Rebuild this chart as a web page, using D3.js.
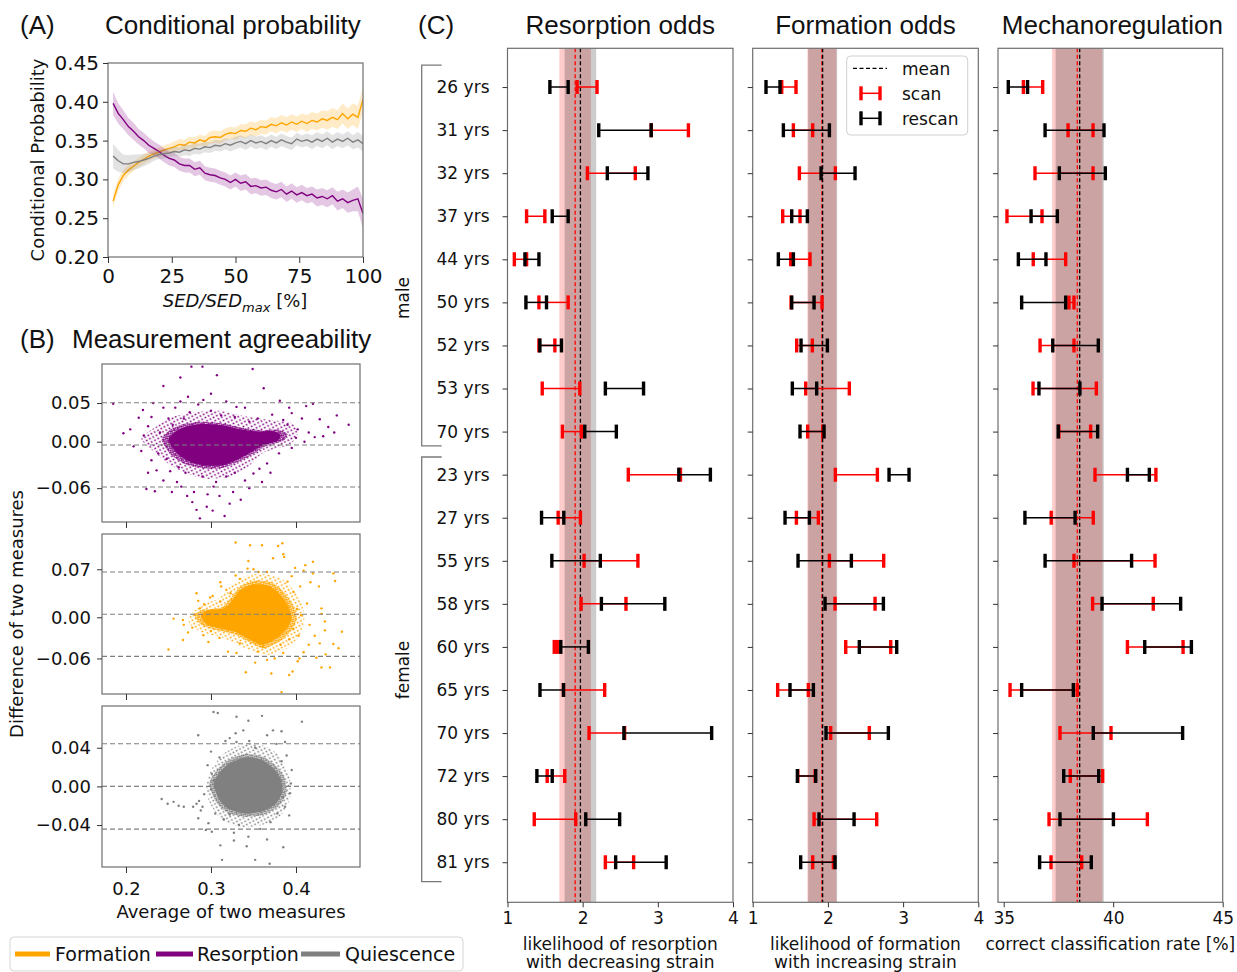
<!DOCTYPE html>
<html>
<head>
<meta charset="utf-8">
<script src="https://cdn.jsdelivr.net/npm/d3@7"></script>
<style>
body { margin: 0; background: #fff; }
</style>
</head>
<body>
<svg id="fig" width="1237" height="972"></svg>
<script>
// ---------- (A) conditional probability ----------
const sedPct = [2,4,6,8,10,12,14,16,18,20,22,24,26,28,30,32,34,36,38,40,42,44,46,48,50,
                52,54,56,58,60,62,64,66,68,70,72,74,76,78,80,82,84,86,88,90,92,94,96,98,100];
const formProb = [0.272,0.293,0.305,0.312,0.317,0.322,0.326,0.330,0.333,0.335,0.338,0.340,0.342,0.345,0.344,0.348,0.347,0.351,0.349,0.354,0.355,0.354,0.358,0.360,0.359,
                  0.363,0.362,0.366,0.364,0.368,0.367,0.371,0.369,0.373,0.370,0.374,0.371,0.375,0.372,0.376,0.374,0.378,0.376,0.380,0.377,0.385,0.378,0.384,0.380,0.403];
const resProb  = [0.398,0.385,0.377,0.368,0.362,0.355,0.350,0.344,0.340,0.336,0.331,0.327,0.325,0.320,0.318,0.318,0.313,0.315,0.308,0.306,0.305,0.302,0.300,0.296,0.300,
                  0.295,0.297,0.291,0.292,0.289,0.290,0.286,0.284,0.287,0.281,0.285,0.280,0.283,0.279,0.281,0.276,0.278,0.275,0.279,0.272,0.275,0.270,0.273,0.275,0.256];
const quiProb  = [0.330,0.324,0.320,0.320,0.322,0.323,0.325,0.327,0.330,0.332,0.333,0.334,0.336,0.335,0.338,0.337,0.340,0.339,0.342,0.341,0.344,0.343,0.346,0.344,0.347,
                  0.349,0.346,0.350,0.347,0.349,0.346,0.350,0.347,0.351,0.348,0.346,0.352,0.349,0.351,0.348,0.352,0.349,0.353,0.348,0.352,0.349,0.353,0.348,0.351,0.346];
// half widths of the confidence bands
const formHW = [0.008,0.008,0.007,0.007,0.006,0.006,0.006,0.006,0.006,0.006,0.006,0.006,0.007,0.007,0.007,0.007,0.007,0.007,0.007,0.008,0.008,0.008,0.008,0.008,0.008,
                0.008,0.009,0.009,0.009,0.009,0.009,0.009,0.010,0.010,0.010,0.010,0.010,0.010,0.011,0.011,0.011,0.011,0.012,0.012,0.012,0.013,0.013,0.014,0.015,0.016];
const resHW  = [0.015,0.013,0.012,0.011,0.011,0.010,0.010,0.010,0.009,0.009,0.009,0.009,0.009,0.009,0.009,0.009,0.009,0.009,0.009,0.009,0.009,0.009,0.009,0.009,0.009,
                0.010,0.010,0.010,0.010,0.010,0.010,0.010,0.010,0.010,0.010,0.010,0.010,0.010,0.010,0.010,0.011,0.011,0.011,0.011,0.012,0.012,0.013,0.014,0.016,0.019];
const quiHW  = [0.016,0.014,0.012,0.011,0.010,0.009,0.008,0.007,0.006,0.006,0.006,0.006,0.006,0.006,0.007,0.007,0.007,0.007,0.007,0.007,0.007,0.007,0.007,0.008,0.008,
                0.008,0.008,0.008,0.008,0.008,0.008,0.008,0.008,0.008,0.008,0.008,0.008,0.008,0.008,0.009,0.009,0.009,0.009,0.009,0.009,0.009,0.009,0.009,0.010,0.010];

// ---------- (B) Bland-Altman clouds: scattered points + dense core outlines ----------
const resPts = [[0.277,0.097],[0.290,0.097],[0.349,0.094],[0.264,0.083],[0.307,0.086],[0.244,0.072],[0.362,0.069],[0.300,0.062],[0.273,0.058],[0.185,0.049],
  [0.462,0.022],[0.448,0.034],[0.197,0.011],[0.422,0.006],[0.244,0.044],[0.220,0.041],[0.215,0.031],[0.230,0.032],[0.264,0.052],[0.291,0.054],
  [0.318,0.052],[0.340,0.044],[0.381,0.053],[0.395,0.037],[0.407,0.030],[0.412,0.046],[0.420,0.049],[0.438,0.019],[0.432,0.007],[0.265,-0.058],
  [0.224,-0.061],[0.303,-0.058],[0.326,-0.065],[0.350,-0.041],[0.357,-0.035],[0.366,-0.028],[0.295,-0.084],[0.302,-0.089],[0.283,-0.088],[0.260,-0.052],
  [0.244,-0.050],[0.236,-0.037],[0.230,-0.024],[0.209,-0.006],[0.221,0.008],[0.287,-0.099],[0.316,-0.096],[0.278,-0.078],[0.254,-0.065],[0.234,-0.064],
  [0.205,0.016],[0.226,0.020],[0.240,0.012],[0.238,-0.015],[0.250,0.030],[0.275,0.038],[0.300,0.040],[0.328,0.032],[0.355,0.030],[0.372,0.035],
  [0.390,0.022],[0.402,0.016],[0.415,0.012],[0.410,0.000],[0.395,-0.008],[0.380,-0.015],[0.370,-0.040],[0.340,-0.050],[0.318,-0.045],[0.290,-0.045],
  [0.270,-0.040],[0.252,-0.038],[0.310,-0.070],[0.296,-0.068],[0.335,-0.075],[0.280,-0.065],[0.258,0.044],[0.232,0.050],[0.285,0.048],[0.330,0.045],
  [0.392,0.044],[0.428,0.029],[0.445,0.012],[0.255,0.022],[0.268,0.030],[0.312,0.034],[0.345,0.026],[0.385,0.028],[0.400,0.005],[0.218,-0.012],
  [0.262,-0.033],[0.306,-0.052],[0.328,-0.040],[0.345,-0.060],[0.290,-0.030],[0.322,-0.080],[0.272,-0.070],[0.248,-0.022],[0.226,-0.040],[0.360,-0.052]];
const resCore = [[0.250,0.002],[0.258,0.013],[0.272,0.020],[0.292,0.023],[0.315,0.021],[0.335,0.016],[0.355,0.013],[0.372,0.014],[0.382,0.009],
  [0.378,0.001],[0.360,-0.005],[0.348,-0.013],[0.333,-0.022],[0.315,-0.030],[0.295,-0.031],[0.275,-0.026],[0.260,-0.015]];
const resHalo = [[0.218,0.004],[0.236,0.020],[0.255,0.032],[0.280,0.038],[0.310,0.040],[0.340,0.033],[0.370,0.028],[0.395,0.024],[0.402,0.010],
  [0.392,-0.004],[0.362,-0.014],[0.346,-0.030],[0.325,-0.044],[0.300,-0.048],[0.276,-0.043],[0.252,-0.030],[0.232,-0.012]];

const formPts = [[0.329,0.109],[0.346,0.105],[0.360,0.105],[0.379,0.104],[0.384,0.108],[0.385,0.092],[0.386,0.088],[0.373,0.086],[0.344,0.082],[0.420,0.081],
  [0.411,0.076],[0.399,0.072],[0.409,0.068],[0.420,0.064],[0.444,0.064],[0.446,0.053],[0.417,0.051],[0.427,0.045],[0.311,0.051],[0.312,0.045],
  [0.283,0.035],[0.299,0.029],[0.302,0.031],[0.267,-0.004],[0.256,-0.002],[0.268,-0.011],[0.273,-0.022],[0.267,-0.033],[0.250,-0.047],[0.291,-0.026],
  [0.297,-0.036],[0.430,0.013],[0.430,0.005],[0.434,-0.006],[0.434,-0.019],[0.454,-0.021],[0.416,-0.011],[0.422,-0.027],[0.428,-0.038],[0.444,-0.039],
  [0.450,-0.045],[0.435,-0.054],[0.424,-0.059],[0.430,-0.073],[0.440,-0.073],[0.409,-0.051],[0.404,-0.060],[0.402,-0.064],[0.396,-0.079],[0.392,-0.084],
  [0.383,-0.109],[0.371,-0.082],[0.341,-0.080],[0.352,-0.066],[0.366,-0.062],[0.330,-0.052],[0.320,-0.050],[0.334,-0.038],[0.361,-0.043],[0.385,-0.052],
  [0.382,-0.040],[0.392,-0.032],[0.397,-0.017],[0.403,-0.027],[0.406,0.003],[0.401,0.012],[0.397,0.037],[0.390,0.052],[0.366,0.066],[0.356,0.066],
  [0.343,0.071],[0.334,0.056],[0.329,0.061],[0.323,0.035],[0.311,0.023],[0.287,0.013],[0.292,0.019],[0.281,0.004],[0.300,-0.020],[0.310,-0.030],
  [0.318,0.040],[0.350,0.070],[0.395,0.060],[0.413,0.020],[0.415,-0.040],[0.375,-0.060],[0.355,-0.050],[0.278,-0.015],[0.285,0.024],[0.405,0.045]];
const formCore = [[0.288,0.002],[0.295,0.010],[0.315,0.013],[0.325,0.025],[0.335,0.040],[0.350,0.048],[0.368,0.046],[0.380,0.035],[0.390,0.018],
  [0.395,0.000],[0.390,-0.015],[0.378,-0.030],[0.360,-0.040],[0.345,-0.032],[0.330,-0.022],[0.310,-0.016],[0.295,-0.010]];
const formHalo = [[0.275,0.003],[0.290,0.018],[0.310,0.028],[0.325,0.048],[0.345,0.062],[0.370,0.062],[0.390,0.050],[0.405,0.025],[0.410,0.000],
  [0.405,-0.025],[0.390,-0.045],[0.365,-0.055],[0.340,-0.045],[0.315,-0.030],[0.290,-0.022],[0.275,-0.010]];

const quiPts = [[0.303,0.077],[0.308,0.076],[0.360,0.073],[0.407,0.067],[0.330,0.072],[0.344,0.068],[0.285,0.053],[0.329,0.055],[0.338,0.058],[0.373,0.058],
  [0.383,0.057],[0.366,0.053],[0.322,0.050],[0.317,0.047],[0.330,0.046],[0.387,0.046],[0.377,0.044],[0.345,0.047],[0.300,0.036],[0.389,0.032],
  [0.383,0.026],[0.395,0.017],[0.394,0.003],[0.393,-0.007],[0.385,-0.011],[0.387,-0.021],[0.301,0.013],[0.303,0.006],[0.300,-0.003],[0.242,-0.013],
  [0.249,-0.018],[0.256,-0.016],[0.262,-0.020],[0.268,-0.021],[0.279,-0.021],[0.283,-0.018],[0.286,-0.015],[0.288,-0.025],[0.290,-0.021],[0.285,-0.033],
  [0.297,-0.038],[0.294,-0.045],[0.301,-0.047],[0.311,-0.061],[0.313,-0.076],[0.327,-0.056],[0.327,-0.048],[0.342,-0.062],[0.344,-0.052],[0.352,-0.076],
  [0.369,-0.080],[0.385,-0.063],[0.366,-0.055],[0.358,-0.044],[0.370,-0.037],[0.333,-0.040],[0.315,-0.034],[0.322,-0.029],[0.378,-0.028],[0.310,0.030],
  [0.296,0.022],[0.352,0.040],[0.392,-0.030],[0.305,-0.028],[0.292,-0.008]];
const quiCore = [[0.303,0.002],[0.310,0.014],[0.322,0.024],[0.340,0.030],[0.358,0.028],[0.372,0.020],[0.382,0.008],[0.384,-0.006],[0.376,-0.018],
  [0.360,-0.026],[0.340,-0.028],[0.322,-0.024],[0.310,-0.014]];
const quiHalo = [[0.295,0.002],[0.302,0.020],[0.318,0.036],[0.340,0.044],[0.362,0.042],[0.380,0.032],[0.392,0.012],[0.393,-0.012],[0.382,-0.030],
  [0.360,-0.040],[0.335,-0.042],[0.312,-0.034],[0.298,-0.016]];

// limits of agreement lines (upper, mean, lower) and their tick labels
const resLoA = [0.0504, -0.0043, -0.0585], resTicks = [0.05, 0, -0.06];
const formLoA = [0.066, 0.0044, -0.057], formTicks = [0.07, 0, -0.06];
const quiLoA = [0.0441, 0, -0.0442], quiTicks = [0.04, 0, -0.04];

// ---------- (C) odds per subject, scan (red) and rescan (black) ----------
const subjects = ['26 yrs','31 yrs','32 yrs','37 yrs','44 yrs','50 yrs','52 yrs','53 yrs','70 yrs',
                  '23 yrs','27 yrs','55 yrs','58 yrs','60 yrs','65 yrs','70 yrs','72 yrs','80 yrs','81 yrs'];
const resScan = [[1.926,2.191],[2.912,3.407],[2.063,2.700],[1.254,1.497],[1.091,1.254],[1.418,1.807],[1.418,1.630],[1.462,1.962],[1.731,1.983],
  [2.607,3.301],[1.674,1.970],[2.019,2.735],[1.979,2.576],[1.622,1.662],[1.745,2.293],[2.085,2.558],[1.528,1.762],[1.356,1.908],[2.302,2.678]];
const resRescan = [[1.564,1.807],[2.214,2.912],[2.328,2.868],[1.595,1.807],[1.232,1.418],[1.245,1.519],[1.431,1.718],[2.302,2.810],[2.028,2.448],
  [3.279,3.699],[1.453,1.749],[1.590,2.235],[2.249,3.093],[1.709,2.076],[1.432,1.745],[2.549,3.716],[1.391,1.595],[2.041,2.492],[2.439,3.111]];
const formScan = [[1.386,1.576],[1.541,1.798],[1.621,2.099],[1.399,1.629],[1.505,1.762],[1.510,1.922],[1.585,1.793],[1.705,2.285],[1.731,1.931],
  [2.099,2.658],[1.581,1.873],[2.020,2.742],[2.095,2.627],[2.237,2.835],[1.332,1.740],[2.037,2.551],[1.600,1.830],[1.816,2.649],[1.798,2.073]];
const formRescan = [[1.177,1.363],[1.408,2.020],[1.909,2.361],[1.519,1.727],[1.341,1.541],[1.519,1.816],[1.643,1.993],[1.527,1.851],[1.629,1.949],
  [2.813,3.079],[1.430,1.754],[1.603,2.312],[1.962,2.738],[2.418,2.915],[1.496,1.807],[1.975,2.804],[1.594,1.838],[1.882,2.348],[1.638,2.095]];
const mechScan = [[35.90,36.78],[37.94,39.08],[36.43,39.08],[35.15,36.75],[36.35,37.83],[37.98,38.21],[36.66,38.21],[36.34,39.23],[37.52,38.97],
  [39.17,41.95],[37.17,39.09],[38.21,41.91],[39.06,41.83],[40.65,43.19],[35.29,38.36],[37.57,39.90],[38.04,39.52],[37.07,41.56],[37.16,38.56]];
const mechRescan = [[35.21,36.09],[36.89,39.58],[37.54,39.64],[36.25,37.45],[35.67,36.93],[35.82,37.83],[37.24,39.32],[36.61,38.48],[37.49,39.29],
  [40.65,41.65],[35.97,38.26],[36.89,40.84],[39.49,43.08],[41.44,43.57],[35.82,38.18],[39.09,43.17],[37.74,39.34],[37.57,40.01],[36.64,39.00]];
// group means and band half widths [scan, rescan]
const resMean = [1.90, 1.97], resBand = [0.21, 0.21];
const formMean = [1.92, 1.93], formBand = [0.193, 0.193];
const mechMean = [38.36, 38.47], mechBand = [1.15, 1.10];

const COL = {form: '#ffa500', res: '#800080', qui: '#808080'};
const DV = '"DejaVu Sans", sans-serif';
const ARIAL = '"Liberation Sans", Arial, sans-serif';

const svg = d3.select('#fig');
svg.append('rect').attr('width', 1237).attr('height', 972).attr('fill', '#fff');
const defs = svg.append('defs');

function styleAxis(g, size) {
  g.select('.domain').remove();
  g.attr('font-family', DV).attr('font-size', size);
  g.selectAll('.tick line').attr('stroke', '#333').attr('stroke-width', 1);
  g.selectAll('.tick text').attr('fill', '#111');
}
function frame(x0, y0, x1, y1) {
  svg.append('rect').attr('x', x0).attr('y', y0).attr('width', x1 - x0).attr('height', y1 - y0)
    .attr('fill', 'none').attr('stroke', '#6e6e6e').attr('stroke-width', 1.2);
}
function clip(id, x0, y0, x1, y1) {
  defs.append('clipPath').attr('id', id).append('rect')
    .attr('x', x0).attr('y', y0).attr('width', x1 - x0).attr('height', y1 - y0);
  return 'url(#' + id + ')';
}
function dots(id, color, step, r, rot) {
  const p = defs.append('pattern').attr('id', id).attr('patternUnits', 'userSpaceOnUse')
    .attr('width', step).attr('height', step).attr('patternTransform', 'rotate(' + rot + ')');
  p.append('circle').attr('cx', step / 4).attr('cy', step / 4).attr('r', r).attr('fill', color);
  p.append('circle').attr('cx', step * 3 / 4).attr('cy', step * 3 / 4).attr('r', r).attr('fill', color);
  return 'url(#' + id + ')';
}
function title(x, y, txt, anchor) {
  svg.append('text').attr('x', x).attr('y', y).attr('font-family', ARIAL).attr('font-size', 26)
    .attr('text-anchor', anchor || 'start').attr('fill', '#111').text(txt);
}

// ================= Panel A =================
title(20, 34, '(A)'); title(105, 34, 'Conditional probability');
const ax = d3.scaleLinear().domain([0, 100]).range([108, 363]);
const ay = d3.scaleLinear().domain([0.2, 0.45]).range([257, 63]);
const gA = svg.append('g').attr('clip-path', clip('clipA', 108, 63, 363, 257));
const seriesA = [
  {c: COL.form, y: formProb, hw: formHW},
  {c: COL.res, y: resProb, hw: resHW},
  {c: COL.qui, y: quiProb, hw: quiHW}
];
seriesA.forEach(s => {
  const pts = sedPct.map((p, i) => ({x: p, y: s.y[i], h: s.hw[i]}));
  gA.append('path').datum(pts).attr('fill', s.c).attr('fill-opacity', 0.22)
    .attr('d', d3.area().x(d => ax(d.x)).y0(d => ay(d.y - d.h)).y1(d => ay(d.y + d.h)));
  gA.append('path').datum(pts).attr('fill', 'none').attr('stroke', s.c).attr('stroke-width', 1.4)
    .attr('d', d3.line().x(d => ax(d.x)).y(d => ay(d.y)));
});
frame(108, 63, 363, 257);
svg.append('g').attr('transform', 'translate(0,257)')
  .call(d3.axisBottom(ax).tickValues([0, 25, 50, 75, 100]).tickSize(6).tickPadding(6))
  .call(g => styleAxis(g, 20));
svg.append('g').attr('transform', 'translate(108,0)')
  .call(d3.axisLeft(ay).tickValues([0.2, 0.25, 0.3, 0.35, 0.4, 0.45]).tickFormat(d3.format('.2f')).tickSize(5).tickPadding(4))
  .call(g => styleAxis(g, 20));
svg.append('text').attr('transform', 'translate(44,160) rotate(-90)').attr('text-anchor', 'middle')
  .attr('font-family', DV).attr('font-size', 18).attr('fill', '#111').text('Conditional Probability');
const xl = svg.append('text').attr('x', 235).attr('y', 307).attr('text-anchor', 'middle')
  .attr('font-family', DV).attr('font-size', 18).attr('fill', '#111');
xl.append('tspan').attr('font-style', 'italic').text('SED/SED');
xl.append('tspan').attr('font-style', 'italic').attr('font-size', 13).attr('dy', 5).text('max');
xl.append('tspan').attr('dy', -5).text(' [%]');

// ================= Panel B =================
title(20, 348, '(B)'); title(72, 348, 'Measurement agreeability');
const bx = d3.scaleLinear().domain([0.1718, 0.4753]).range([102, 360]);
const subsB = [
  {c: COL.res, pts: resPts, core: resCore, halo: resHalo, top: 364, bot: 522, dom: [-0.1037, 0.1004], loa: resLoA, ticks: resTicks},
  {c: COL.form, pts: formPts, core: formCore, halo: formHalo, top: 534, bot: 694, dom: [-0.1118, 0.1214], loa: formLoA, ticks: formTicks},
  {c: COL.qui, pts: quiPts, core: quiCore, halo: quiHalo, top: 706, bot: 867, dom: [-0.0834, 0.0832], loa: quiLoA, ticks: quiTicks}
];
subsB.forEach((s, k) => {
  const y = d3.scaleLinear().domain(s.dom).range([s.bot, s.top]);
  const g = svg.append('g').attr('clip-path', clip('clipB' + k, 102, s.top, 360, s.bot));
  const outline = d3.line().x(d => bx(d[0])).y(d => y(d[1])).curve(d3.curveCardinalClosed.tension(0.3));
  // dotted halo, then a denser dotted ring, then the solid core
  g.append('path').datum(s.halo).attr('d', outline).attr('fill', dots('dotA' + k, s.c, 5.2, 0.95, 17));
  g.append('path').datum(s.core).attr('d', outline).attr('fill', dots('dotB' + k, s.c, 2.6, 0.9, 31))
    .attr('transform', 'translate(' + (bx(d3.mean(s.core, d => d[0])) * -0.12) + ',' + (y(d3.mean(s.core, d => d[1])) * -0.12) + ') scale(1.12)');
  g.append('path').datum(s.core).attr('d', outline).attr('fill', s.c);
  g.selectAll('circle.p').data(s.pts).join('circle').attr('class', 'p')
    .attr('cx', d => bx(d[0])).attr('cy', d => y(d[1])).attr('r', 1.2).attr('fill', s.c);
  g.selectAll('line.loa').data(s.loa).join('line').attr('class', 'loa')
    .attr('x1', 102).attr('x2', 360).attr('y1', d => y(d)).attr('y2', d => y(d))
    .attr('stroke', '#7f7f7f').attr('stroke-width', 1.1).attr('stroke-dasharray', '5,3');
  frame(102, s.top, 360, s.bot);
  svg.append('g').attr('transform', 'translate(102,0)')
    .call(d3.axisLeft(y).tickValues(s.ticks).tickFormat(d3.format('.2f')).tickSize(5).tickPadding(6))
    .call(g2 => styleAxis(g2, 18));
  svg.append('g').attr('transform', 'translate(0,' + s.bot + ')')
    .call(d3.axisBottom(bx).tickValues([0.2, 0.3, 0.4]).tickSize(6).tickPadding(9).tickFormat(k === 2 ? d3.format('.1f') : () => ''))
    .call(g2 => styleAxis(g2, 18));
});
svg.append('text').attr('x', 231).attr('y', 918).attr('text-anchor', 'middle')
  .attr('font-family', DV).attr('font-size', 18).attr('fill', '#111').text('Average of two measures');
svg.append('text').attr('transform', 'translate(23,614) rotate(-90)').attr('text-anchor', 'middle')
  .attr('font-family', DV).attr('font-size', 18).attr('fill', '#111').text('Difference of two measures');

// legend bottom left
const legB = svg.append('g');
legB.append('rect').attr('x', 10).attr('y', 937).attr('width', 453).attr('height', 34).attr('rx', 4)
  .attr('fill', '#fff').attr('stroke', '#d6d6d6');
[{c: COL.form, t: 'Formation', x0: 15, x1: 50, tx: 55},
 {c: COL.res, t: 'Resorption', x0: 156, x1: 193, tx: 197},
 {c: COL.qui, t: 'Quiescence', x0: 301, x1: 340, tx: 345}].forEach(d => {
  legB.append('line').attr('x1', d.x0).attr('x2', d.x1).attr('y1', 954).attr('y2', 954)
    .attr('stroke', d.c).attr('stroke-width', 5);
  legB.append('text').attr('x', d.tx).attr('y', 961).attr('font-family', DV).attr('font-size', 19)
    .attr('fill', '#111').text(d.t);
});

// ================= Panel C =================
title(418, 34, '(C)');
const cy = d3.scaleLinear().domain([-0.9, 18.93]).range([48.3, 902.3]);
const panelsC = [
  {t: 'Resorption odds', x0: 507.5, x1: 733, dom: [1, 4], ticks: [1, 2, 3, 4], scan: resScan, rescan: resRescan,
   mean: resMean, band: resBand, lab: ['likelihood of resorption', 'with decreasing strain']},
  {t: 'Formation odds', x0: 752.7, x1: 978.3, dom: [1, 4], ticks: [1, 2, 3, 4], scan: formScan, rescan: formRescan,
   mean: formMean, band: formBand, lab: ['likelihood of formation', 'with increasing strain']},
  {t: 'Mechanoregulation', x0: 998, x1: 1222.7, dom: [34.74, 45], ticks: [35, 40, 45], scan: mechScan, rescan: mechRescan,
   mean: mechMean, band: mechBand, lab: ['correct classification rate [%]']}
];
const cTop = 48.3, cBot = 902.3;
panelsC.forEach((p, k) => {
  const x = d3.scaleLinear().domain(p.dom).range([p.x0, p.x1]);
  const cx = (p.x0 + p.x1) / 2;
  title(cx + (k === 2 ? 2 : 0), 34, p.t, 'middle');
  const g = svg.append('g').attr('clip-path', clip('clipC' + k, p.x0, cTop, p.x1, cBot));
  const cols = ['#ff0000', '#000000'];
  // bands
  [0, 1].forEach(j => {
    g.append('rect').attr('x', x(p.mean[j] - p.band[j])).attr('width', x(p.mean[j] + p.band[j]) - x(p.mean[j] - p.band[j]))
      .attr('y', cTop).attr('height', cBot - cTop).attr('fill', cols[j]).attr('fill-opacity', 0.2);
  });
  [0, 1].forEach(j => {
    g.append('line').attr('x1', x(p.mean[j])).attr('x2', x(p.mean[j])).attr('y1', cTop).attr('y2', cBot)
      .attr('stroke', cols[j]).attr('stroke-width', 1.3).attr('stroke-dasharray', '4,2.5');
  });
  // error bars
  [p.scan, p.rescan].forEach((set, j) => {
    const eb = g.append('g').selectAll('g').data(set).join('g');
    eb.append('line').attr('x1', d => x(d[0])).attr('x2', d => x(d[1]))
      .attr('y1', (d, i) => cy(i)).attr('y2', (d, i) => cy(i)).attr('stroke', cols[j]).attr('stroke-width', 1.5);
    [0, 1].forEach(e => {
      eb.append('line').attr('x1', d => x(d[e])).attr('x2', d => x(d[e]))
        .attr('y1', (d, i) => cy(i) - 7).attr('y2', (d, i) => cy(i) + 7)
        .attr('stroke', cols[j]).attr('stroke-width', 3.4);
    });
  });
  frame(p.x0, cTop, p.x1, cBot);
  svg.append('g').attr('transform', 'translate(0,' + cBot + ')')
    .call(d3.axisBottom(x).tickValues(p.ticks).tickFormat(d3.format('d')).tickSize(5).tickPadding(5))
    .call(g2 => styleAxis(g2, 17));
  svg.append('g').attr('transform', 'translate(' + p.x0 + ',0)')
    .call(d3.axisLeft(cy).tickValues(d3.range(subjects.length)).tickFormat(i => k === 0 ? subjects[i] : '').tickSize(5).tickPadding(13))
    .call(g2 => styleAxis(g2, 17));
  p.lab.forEach((l, i) => {
    svg.append('text').attr('x', cx).attr('y', 950 + i * 18).attr('text-anchor', 'middle')
      .attr('font-family', DV).attr('font-size', 17).attr('fill', '#111').text(l);
  });
});

// sex brackets
[{t: 'male', a: -0.51, b: 8.33, ly: 298}, {t: 'female', a: 8.59, b: 18.45, ly: 670}].forEach(s => {
  svg.append('path').attr('d', 'M441.7,' + cy(s.a) + 'H421.7V' + cy(s.b) + 'H441.7')
    .attr('fill', 'none').attr('stroke', '#7a7a7a').attr('stroke-width', 1.3);
  svg.append('text').attr('transform', 'translate(409,' + s.ly + ') rotate(-90)').attr('text-anchor', 'middle')
    .attr('font-family', DV).attr('font-size', 17).attr('fill', '#111').text(s.t);
});

// legend in formation panel
const legC = svg.append('g');
legC.append('rect').attr('x', 846.7).attr('y', 56).attr('width', 121).attr('height', 79).attr('rx', 4)
  .attr('fill', '#fff').attr('fill-opacity', 0.85).attr('stroke', '#d0d0d0');
legC.append('line').attr('x1', 853).attr('x2', 887).attr('y1', 68.3).attr('y2', 68.3)
  .attr('stroke', '#000').attr('stroke-width', 1.3).attr('stroke-dasharray', '4,2.5');
[['#ff0000', 93.3], ['#000000', 118.3]].forEach(([c, y]) => {
  legC.append('line').attr('x1', 861).attr('x2', 880).attr('y1', y).attr('y2', y).attr('stroke', c).attr('stroke-width', 1.5);
  [861, 880].forEach(xx => legC.append('line').attr('x1', xx).attr('x2', xx).attr('y1', y - 7).attr('y2', y + 7)
    .attr('stroke', c).attr('stroke-width', 3.4));
});
['mean', 'scan', 'rescan'].forEach((t, i) => {
  legC.append('text').attr('x', 902).attr('y', 74.5 + i * 25).attr('font-family', DV).attr('font-size', 17)
    .attr('fill', '#111').text(t);
});
</script>
</body>
</html>
